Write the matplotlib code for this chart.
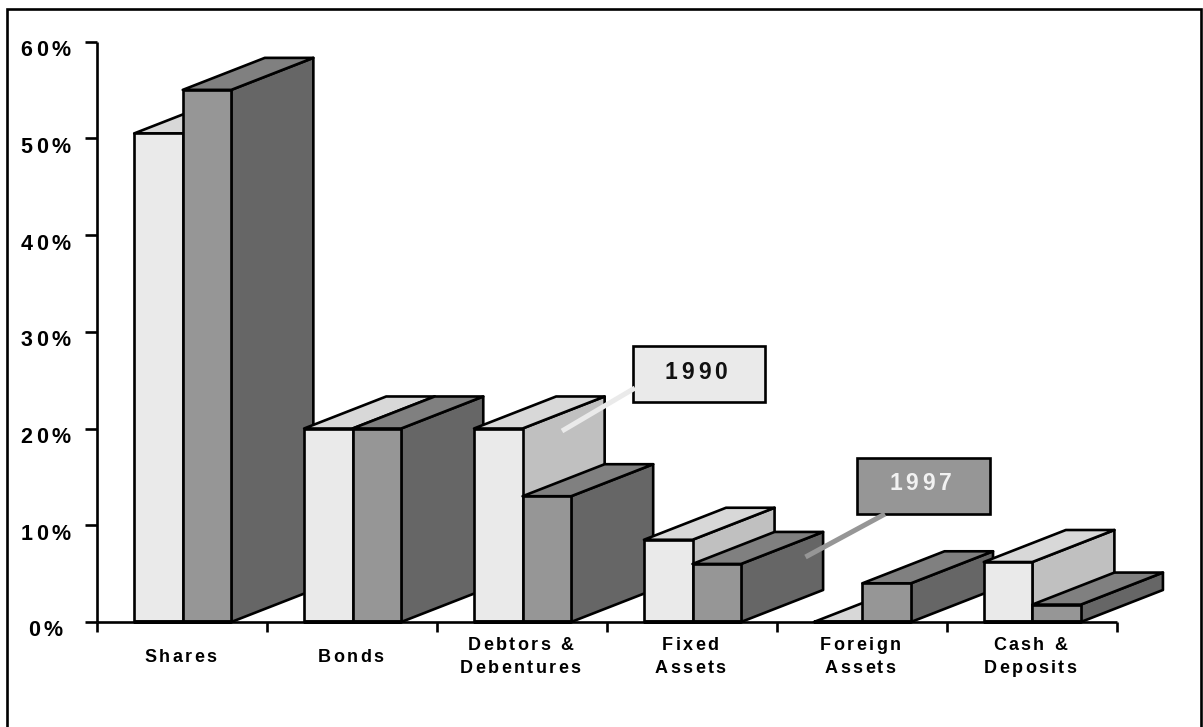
import matplotlib
matplotlib.use("Agg")
import matplotlib.pyplot as plt
from matplotlib.patches import Polygon, Rectangle
from matplotlib.lines import Line2D
from matplotlib.text import Text
from matplotlib.transforms import IdentityTransform, ScaledTranslation

# ---- data ----
categories = ["Shares", "Bonds", "Debtors &\nDebentures", "Fixed\nAssets", "Foreign\nAssets", "Cash &\nDeposits"]
values_1990 = [50.5, 20, 20, 8.5, 0, 6.2]
values_1997 = [55, 20, 13, 6, 4, 1.8]
y_ticks = [0, 10, 20, 30, 40, 50, 60]
y_tick_labels = ["0%", "10%", "20%", "30%", "40%", "50%", "60%"]
series_names = ["1990", "1997"]

# ---- style ----
W, H = 1203, 727
FONT = "Liberation Sans"
STYLE_1990 = dict(front="#EAEAEA", top="#D8D8D8", side="#C0C0C0")
STYLE_1997 = dict(front="#969696", top="#808080", side="#666666")
BAR_W = 48.5 / 169.8          # bar width in category units
GROUP_SHIFT = 0.8 / 169.8     # group centre offset from the slot centre
DEPTH_X = 82 / 169.8          # oblique depth, category units
DEPTH_Y = 32 / 9.67           # oblique depth, percent units
LW = 1.9


class SpacedText(Text):
    """One text artist (multi-line allowed) drawn with letter spacing, in pixels."""

    def __init__(self, *args, spacing=0.0, line_px=23, **kw):
        super().__init__(*args, **kw)
        self._spacing = spacing
        self._line_px = line_px

    def draw(self, renderer):
        if not self.get_visible():
            return
        x0, y0 = self.get_transform().transform(self.get_position())
        lines = self.get_text().split("\n")
        fp = self.get_fontproperties()
        n = len(lines)
        for k, line in enumerate(lines):
            def w(s):
                return renderer.get_text_width_height_descent(s, fp, False)[0]
            total = w(line) + self._spacing * (len(line) - 1)
            base = y0 + (n - 1) / 2 * self._line_px - k * self._line_px
            for i, ch in enumerate(line):
                if ch == " ":
                    continue
                off = w(line[: i + 1]) - w(ch) + self._spacing * i
                t = Text(x0 - total / 2 + off, base, ch, fontproperties=fp,
                         color=self.get_color(), ha="left", va="baseline",
                         transform=IdentityTransform())
                t.set_figure(self.get_figure())
                t.draw(renderer)


fig = plt.figure(figsize=(W / 100, H / 100), dpi=100, facecolor="white")


def fx(x):
    return x / W


def fy(y):
    return 1 - y / H


# plot frame: y axis at x=97 px, baseline at y=622 px
ax = fig.add_axes([fx(97), fy(622), (1116.5 - 97) / W, (622 - 41.5) / H])
ax.set_xlim(0, 6)
ax.set_ylim(0, 60)
ax.patch.set_visible(False)
for s in ["top", "right"]:
    ax.spines[s].set_visible(False)
for s in ["left", "bottom"]:
    ax.spines[s].set_linewidth(LW)
    ax.spines[s].set_capstyle("butt")
ax.set_xticks(range(7))
ax.set_xticklabels([])
ax.set_yticks(y_ticks)
ax.set_yticklabels([])
ax.tick_params(axis="y", length=8.6, width=LW, direction="out")
ax.tick_params(axis="x", length=7.2, width=LW, direction="out")


def box3d(x0, v, st, z):
    x1 = x0 + BAR_W
    dx, dy = DEPTH_X, DEPTH_Y
    kw = dict(edgecolor="black", linewidth=LW, joinstyle="round", clip_on=False, zorder=z)
    ax.add_patch(Polygon([(x1, 0), (x1 + dx, dy), (x1 + dx, v + dy), (x1, v)], facecolor=st["side"], **kw))
    ax.add_patch(Polygon([(x0, v), (x0 + dx, v + dy), (x1 + dx, v + dy), (x1, v)], facecolor=st["top"], **kw))
    ax.add_patch(Rectangle((x0, 0), BAR_W, v, facecolor=st["front"], **kw))
    ax.plot([x0, x1], [0, 0], color="black", lw=2.8, clip_on=False, zorder=z + 0.1,
            solid_capstyle="butt")


z = 3
for i in range(len(categories)):
    c = i + 0.5 + GROUP_SHIFT
    box3d(c - BAR_W, values_1990[i], STYLE_1990, z)
    z += 1
    box3d(c, values_1997[i], STYLE_1997, z)
    z += 1

# category labels
down = ScaledTranslation(-1.5 / 100, -39.5 / 100, fig.dpi_scale_trans)
for i, lab in enumerate(categories):
    t = SpacedText(i + 0.5, 0, lab, spacing=2.4, line_px=23, fontfamily=FONT, fontweight="bold",
                   fontsize=13, color="black", transform=ax.transData + down)
    ax.add_artist(t)

# value-axis labels
for v, lab in zip(y_ticks, y_tick_labels):
    off = ScaledTranslation(-51.5 / 100, -14.5 / 100, fig.dpi_scale_trans)
    t = SpacedText(0, v, lab, spacing=3.6, fontfamily=FONT, fontweight="bold",
                   fontsize=15.5, color="black", transform=ax.transData + off)
    ax.add_artist(t)


def callout(name, left, top, right, bottom, st, txt_color, p0, p1, text_y):
    fig.add_artist(Rectangle((fx(left), fy(bottom)), (right - left) / W, (bottom - top) / H,
                             transform=fig.transFigure, facecolor=st["front"],
                             edgecolor="black", linewidth=LW, zorder=50))
    fig.add_artist(Line2D([fx(p0[0]), fx(p1[0])], [fy(p0[1]), fy(p1[1])], color=st["front"],
                          lw=3.6, solid_capstyle="butt", zorder=51, transform=fig.transFigure))
    t = SpacedText(fx((left + right) / 2 - 3), fy(text_y), name, spacing=3.8, fontfamily=FONT,
                   fontweight="bold", fontsize=16.5, color=txt_color, transform=fig.transFigure)
    t.set_zorder(52)
    fig.add_artist(t)


callout(series_names[0], 633, 345.5, 765, 401.5, STYLE_1990, "#111111", (562, 431), (635, 388), 379)
callout(series_names[1], 857, 458, 989.5, 514, STYLE_1997, "#F2F2F2", (805.5, 557), (885, 514), 490)

# outer frame (bottom edge falls beyond the picture)
fig.add_artist(Rectangle((fx(7), fy(740)), (1200.5 - 7) / W, (740 - 9) / H, transform=fig.transFigure,
                         facecolor="none", edgecolor="black", linewidth=LW, zorder=60))

fig.savefig("out.png", dpi=100, facecolor="white")
